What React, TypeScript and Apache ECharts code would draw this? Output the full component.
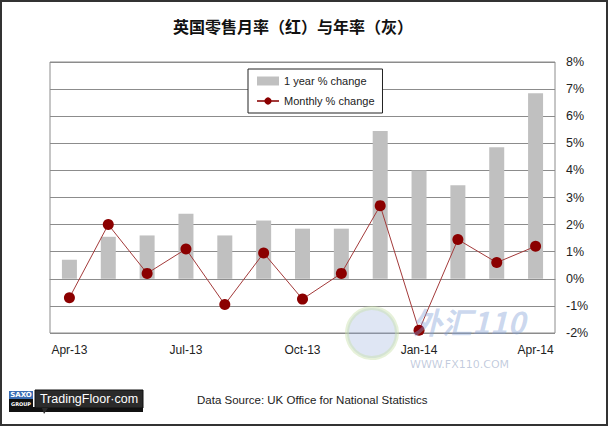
import React, { useEffect, useRef } from "react";
import * as echarts from "echarts";

const categories = [
  "Apr-13", "May-13", "Jun-13", "Jul-13", "Aug-13", "Sep-13", "Oct-13",
  "Nov-13", "Dec-13", "Jan-14", "Feb-14", "Mar-14", "Apr-14",
];
const yearlyChange = [0.7, 1.55, 1.6, 2.4, 1.6, 2.15, 1.85, 1.85, 5.45, 4.0, 3.45, 4.85, 6.85];
const monthlyChange = [-0.7, 2.0, 0.2, 1.1, -0.95, 0.95, -0.75, 0.2, 2.7, -1.9, 1.45, 0.6, 1.2];
const yMin = -2;
const yMax = 8;
const yStep = 1;

const titleText = "英国零售月率（红）与年率（灰）";
const sourceText = "Data Source: UK Office for National Statistics";

export default function App() {
  const ref = useRef<HTMLDivElement>(null);
  useEffect(() => {
    document.body.style.margin = "0";
    if (!ref.current) return;
    const chart = echarts.init(ref.current, null, { renderer: "svg" });
    chart.setOption({
      animation: false,
      backgroundColor: "#ffffff",
      title: {
        text: titleText,
        left: 168,
        top: 13,
        textStyle: {
          fontFamily: "Noto Sans CJK SC",
          fontSize: 16,
          fontWeight: "bold",
          color: "#111",
        },
      },
      grid: {
        left: 50,
        right: 53,
        top: 62,
        bottom: 93,
        show: true,
        borderColor: "#8c8c8c",
        borderWidth: 1,
        containLabel: false,
      },
      legend: {
        left: 248,
        top: 69,
        orient: "vertical",
        backgroundColor: "#fff",
        borderColor: "#222",
        borderWidth: 1,
        padding: [5, 8, 5, 8],
        itemGap: 6,
        itemWidth: 22,
        itemHeight: 9,
        textStyle: {
          fontFamily: "Liberation Sans",
          fontSize: 11,
          color: "#222",
          lineHeight: 14,
        },
        data: [
          { name: "1 year % change", icon: "rect" },
          { name: "Monthly % change" },
        ],
      },
      xAxis: {
        type: "category",
        data: categories,
        boundaryGap: true,
        axisTick: { show: false },
        axisLine: { show: true, lineStyle: { color: "#8c8c8c" } },
        axisLabel: {
          interval: 2,
          margin: 11,
          fontFamily: "Liberation Sans",
          fontSize: 12,
          color: "#222",
        },
      },
      yAxis: {
        type: "value",
        position: "right",
        min: yMin,
        max: yMax,
        interval: yStep,
        axisLine: { show: false },
        axisTick: { show: false },
        axisLabel: {
          formatter: "{value}%",
          margin: 11,
          fontFamily: "Liberation Sans",
          fontSize: 12.5,
          color: "#222",
        },
        splitLine: { show: true, lineStyle: { color: "#8c8c8c", width: 1 } },
      },
      series: [
        {
          name: "1 year % change",
          type: "bar",
          data: yearlyChange,
          barWidth: 15,
          itemStyle: { color: "#c0c0c0" },
          z: 2,
        },
        {
          name: "Monthly % change",
          type: "line",
          data: monthlyChange,
          symbol: "circle",
          symbolSize: 11,
          lineStyle: { color: "#a33a3a", width: 1 },
          itemStyle: { color: "#8b0000" },
          z: 3,
        },
      ],
      graphic: [
        {
          type: "rect",
          shape: { x: 1, y: 1, width: 606, height: 424 },
          style: { fill: "none", stroke: "#333", lineWidth: 2 },
          silent: true,
          z: 200,
        },
        // watermark
        {
          type: "circle",
          shape: { cx: 372, cy: 333, r: 25 },
          style: { fill: "rgba(140,165,215,0.28)", stroke: "rgba(200,225,170,0.45)", lineWidth: 4 },
          silent: true,
          z: 100,
        },
        {
          type: "text",
          x: 412,
          y: 306,
          style: {
            text: "外汇110",
            font: "italic bold 30px 'Noto Sans CJK SC'",
            fill: "rgba(130,160,215,0.42)",
          },
          silent: true,
          z: 100,
        },
        {
          type: "text",
          x: 410,
          y: 359,
          style: {
            text: "WWW.FX110.COM",
            font: "11px 'DejaVu Sans'",
            fill: "rgba(120,140,180,0.45)",
          },
          silent: true,
          z: 100,
        },
        // logo
        {
          type: "rect",
          shape: { x: 9, y: 391, width: 24, height: 8 },
          style: { fill: "#3b6db3" },
        },
        {
          type: "rect",
          shape: { x: 9, y: 399, width: 24, height: 10 },
          style: { fill: "#111" },
        },
        {
          type: "text",
          x: 21,
          y: 395,
          style: { text: "SAXO", font: "bold 7px 'DejaVu Sans'", fill: "#fff", align: "center", verticalAlign: "middle" },
        },
        {
          type: "text",
          x: 21,
          y: 404,
          style: { text: "GROUP", font: "bold 5px 'DejaVu Sans'", fill: "#fff", align: "center", verticalAlign: "middle" },
        },
        {
          type: "rect",
          shape: { x: 9, y: 407, width: 134, height: 5 },
          style: { fill: "#111" },
        },
        {
          type: "rect",
          shape: { x: 35, y: 390, width: 108, height: 18 },
          style: { fill: "#2b2b2b", stroke: "#111", lineWidth: 1 },
        },
        {
          type: "polygon",
          shape: { points: [[42, 408], [48, 408], [44, 414]] },
          style: { fill: "#2b2b2b" },
        },
        {
          type: "text",
          x: 89,
          y: 399,
          style: {
            text: "TradingFloor·com",
            font: "12.5px 'Liberation Sans'",
            fill: "#fff",
            align: "center",
            verticalAlign: "middle",
          },
        },
        {
          type: "text",
          x: 197,
          y: 400,
          style: {
            text: sourceText,
            font: "11.5px 'Liberation Sans'",
            fill: "#222",
            verticalAlign: "middle",
          },
        },
      ],
    });
    return () => chart.dispose();
  }, []);
  return <div ref={ref} style={{ width: 608, height: 426 }} />;
}
